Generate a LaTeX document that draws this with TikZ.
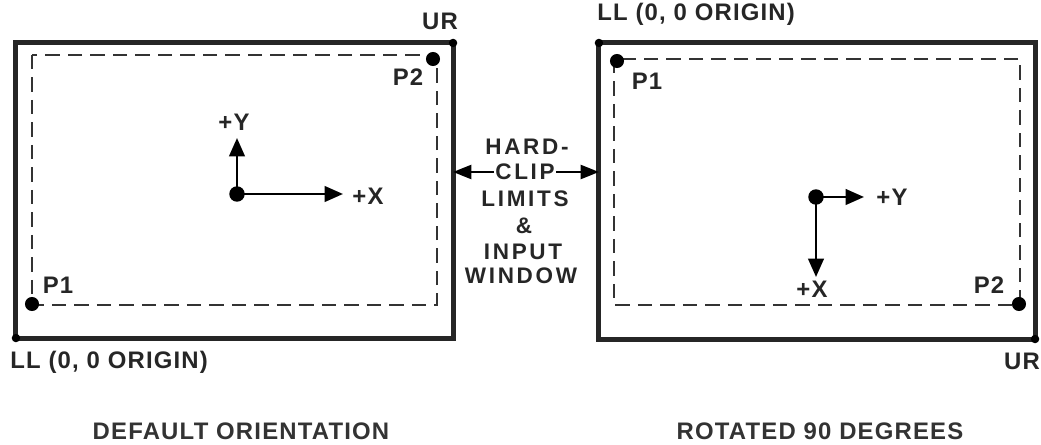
\documentclass[tikz,border=0pt]{standalone}
\usepackage{fontspec}
\setmainfont{Liberation Sans}
\usetikzlibrary{arrows.meta}

\newcommand{\lblfont}{\bfseries\fontsize{17}{20}\selectfont\addfontfeature{LetterSpace=5}}
\newcommand{\midfont}{\bfseries\fontsize{16}{19}\selectfont\addfontfeature{LetterSpace=12}}
\newcommand{\capfont}{\bfseries\fontsize{17}{20}\selectfont\addfontfeature{LetterSpace=5}}

\begin{document}
\begin{tikzpicture}[x=0.025cm, y=-0.025cm,
    frame/.style={draw, line width=3.6pt, inner sep=0pt, outer sep=0pt, black!85},
    window/.style={draw, line width=1.6pt, dash pattern=on 10pt off 6pt, black!80},
    axis/.style={line width=1.8pt, -{Triangle[length=13pt,width=11pt]}},
    clipline/.style={line width=1.5pt, -{Triangle[length=13pt,width=10pt]}},
    dot/.style={circle, fill, inner sep=0pt, minimum size=#1},
    lbl/.style={font=\lblfont, inner sep=0pt, black!85},
    mid/.style={font=\midfont, inner sep=1pt, black!85},
    caption/.style={font=\capfont, inner sep=0pt, black!80}]
  \useasboundingbox (0,0) rectangle (1041,445);

  % default orientation
  \node[frame, minimum width=10.925cm, minimum height=7.375cm] (dflt) at (234.5,190.5) {};
  \draw[window] (32,55) rectangle (437,305);
  \node[dot=6pt] at (dflt.south west) {};
  \node[dot=6pt] at (dflt.north east) {};
  \node[dot=10pt] (p1a) at (32,304) {};
  \node[dot=10pt] (p2a) at (433,59) {};
  \node[lbl] at (58,285) {P1};
  \node[lbl] at (408,77) {P2};
  \node[lbl] at (440,21) {UR};
  \node[lbl, anchor=west] at (10,362) {LL (0, 0 ORIGIN)};
  \node[dot=11pt] (oa) at (237,194) {};
  \coordinate (ya) at (237,138);
  \coordinate (xa) at (343,194);
  \draw[axis] (oa.center) -- (ya);
  \draw[axis] (oa.center) -- (xa);
  \node[lbl] at (234,122) {+Y};
  \node[lbl] at (368,196) {+X};
  \node[caption] at (241,431) {DEFAULT ORIENTATION};

  % rotated 90 degrees
  \node[frame, minimum width=10.9cm, minimum height=7.4cm] (rot) at (817,191) {};
  \draw[window] (614,59) rectangle (1020,305);
  \node[dot=6pt] at (rot.north west) {};
  \node[dot=6pt] at (rot.south east) {};
  \node[dot=10pt] (p1b) at (617,61) {};
  \node[dot=10pt] (p2b) at (1019,304) {};
  \node[lbl] at (647,81) {P1};
  \node[lbl] at (989,285) {P2};
  \node[lbl] at (1022,361) {UR};
  \node[lbl, anchor=west] at (597,14) {LL (0, 0 ORIGIN)};
  \node[dot=11pt] (ob) at (816,197) {};
  \coordinate (yb) at (864,197);
  \coordinate (xb) at (816,277);
  \draw[axis] (ob.center) -- (yb);
  \draw[axis] (ob.center) -- (xb);
  \node[lbl] at (892,197) {+Y};
  \node[lbl] at (812,289) {+X};
  \node[caption] at (820,431) {ROTATED 90 DEGREES};

  % hard-clip limits
  \node[mid] (hard) at (527,147) {HARD-};
  \node[mid] (clip) at (525,172) {CLIP};
  \node[mid] (limits) at (525,199) {LIMITS};
  \node[mid] (amp) at (524,226) {\&};
  \node[mid] (input) at (523,252) {INPUT};
  \node[mid] (window) at (521,276) {WINDOW};
  \draw[clipline] (clip.west) -- (clip.west -| dflt.east);
  \draw[clipline] (clip.east) -- (clip.east -| rot.west);
\end{tikzpicture}
\end{document}
